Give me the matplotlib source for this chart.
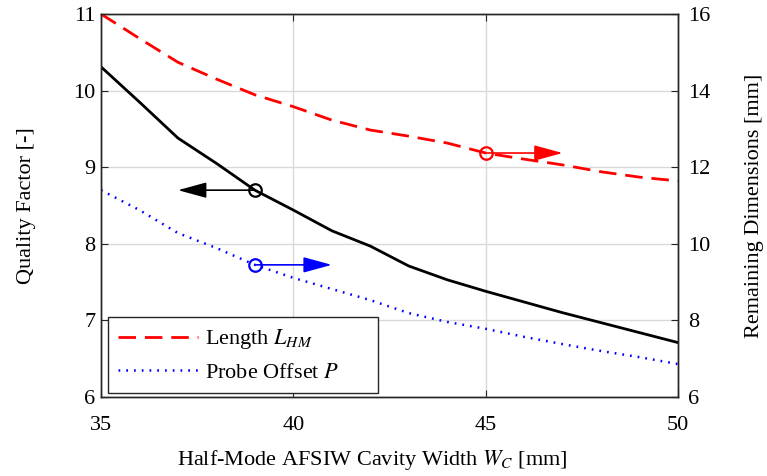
import numpy as np
import matplotlib
matplotlib.use("Agg")
import matplotlib.pyplot as plt

plt.rcParams['font.family'] = ['Liberation Serif', 'DejaVu Serif']
plt.rcParams['mathtext.fontset'] = 'stix'
plt.rcParams['font.size'] = 16

# --- Data ---
width = [35, 36, 37, 38, 39, 40, 41, 42, 43, 44, 45, 46, 47, 48, 49, 50]
quality = [10.31, 9.85, 9.38, 9.05, 8.70, 8.44, 8.17, 7.97, 7.71, 7.53,
           7.38, 7.24, 7.10, 6.97, 6.84, 6.71]
length_hm = [16.0, 15.36, 14.74, 14.30, 13.89, 13.58, 13.23, 12.97, 12.81,
             12.63, 12.37, 12.21, 12.06, 11.88, 11.74, 11.64]
probe_offset = [11.40, 10.88, 10.28, 9.89, 9.45, 9.11, 8.82, 8.53, 8.19,
                7.96, 7.78, 7.57, 7.38, 7.20, 7.04, 6.86]

axcol = '#262626'

fig = plt.figure(figsize=(7.67, 4.76), dpi=100)
ax = fig.add_axes([0.1317, 0.166, 0.7523, 0.8046])
ax2 = ax.twinx()

# Quality factor (left)
ax.plot(width, quality, '-', color='k', lw=2.0)
# Remaining dimensions (right)
ax2.plot(width, length_hm, '--', color='red', lw=2.0, dashes=(6.3, 3.2),
         label='Length $L_{HM}$')
ax2.plot(width, probe_offset, ':', color='blue', lw=1.8, dashes=(0.7, 2.4),
         label='Probe Offset $P$')

# markers + arrows pointing to the axis each curve belongs to
def mark(axis, x0, y0, x1, color):
    axis.annotate('', xy=(x1, y0), xytext=(x0, y0),
                  arrowprops=dict(arrowstyle='-|>,head_length=1.1,head_width=0.3',
                                  color=color, lw=1.2, shrinkA=0, shrinkB=0))
    axis.plot([x0], [y0], 'o', mfc='none', mec=color, ms=9, mew=1.6)

mark(ax, 39, quality[4], 37, 'k')
mark(ax2, 45, length_hm[10], 47, 'red')
mark(ax2, 39, probe_offset[4], 41, 'blue')

ax.set_xlim(35, 50)
ax.set_ylim(6, 11)
ax2.set_ylim(6, 16)
ax.set_xticks([35, 40, 45, 50])
ax.set_yticks([6, 7, 8, 9, 10, 11])
ax2.set_yticks([6, 8, 10, 12, 14, 16])

ax.grid(True, color='#d9d9d9', lw=1.0)
ax.set_axisbelow(True)

ax.tick_params(axis='x', direction='in', top=True, length=5, colors=axcol,
               labelcolor='k', pad=14)
ax.tick_params(axis='y', direction='in', right=False, length=5, colors=axcol,
               labelcolor='k', pad=4)
ax2.tick_params(axis='y', direction='in', length=5, colors=axcol,
                labelcolor='k', pad=7)
for a in (ax, ax2):
    for s in a.spines.values():
        s.set_color(axcol)
        s.set_linewidth(1.0)

ax.set_xlabel('Half-Mode AFSIW Cavity Width $W_C$ [mm]')
ax.xaxis.set_label_coords(0.47, -0.133)
ax.set_ylabel('Quality Factor [-]', labelpad=27)
ax2.set_ylabel('Remaining Dimensions [mm]', labelpad=25)

leg = ax2.legend(loc='lower left', bbox_to_anchor=(0.012, 0.0105, 0.468, 0.2),
                 mode='expand', handlelength=3.6, handletextpad=0.3,
                 fancybox=False, edgecolor=axcol, framealpha=1,
                 borderaxespad=0, labelspacing=0.5, borderpad=0.45)
leg.get_frame().set_linewidth(1.0)

fig.savefig('out.png', dpi=100)
